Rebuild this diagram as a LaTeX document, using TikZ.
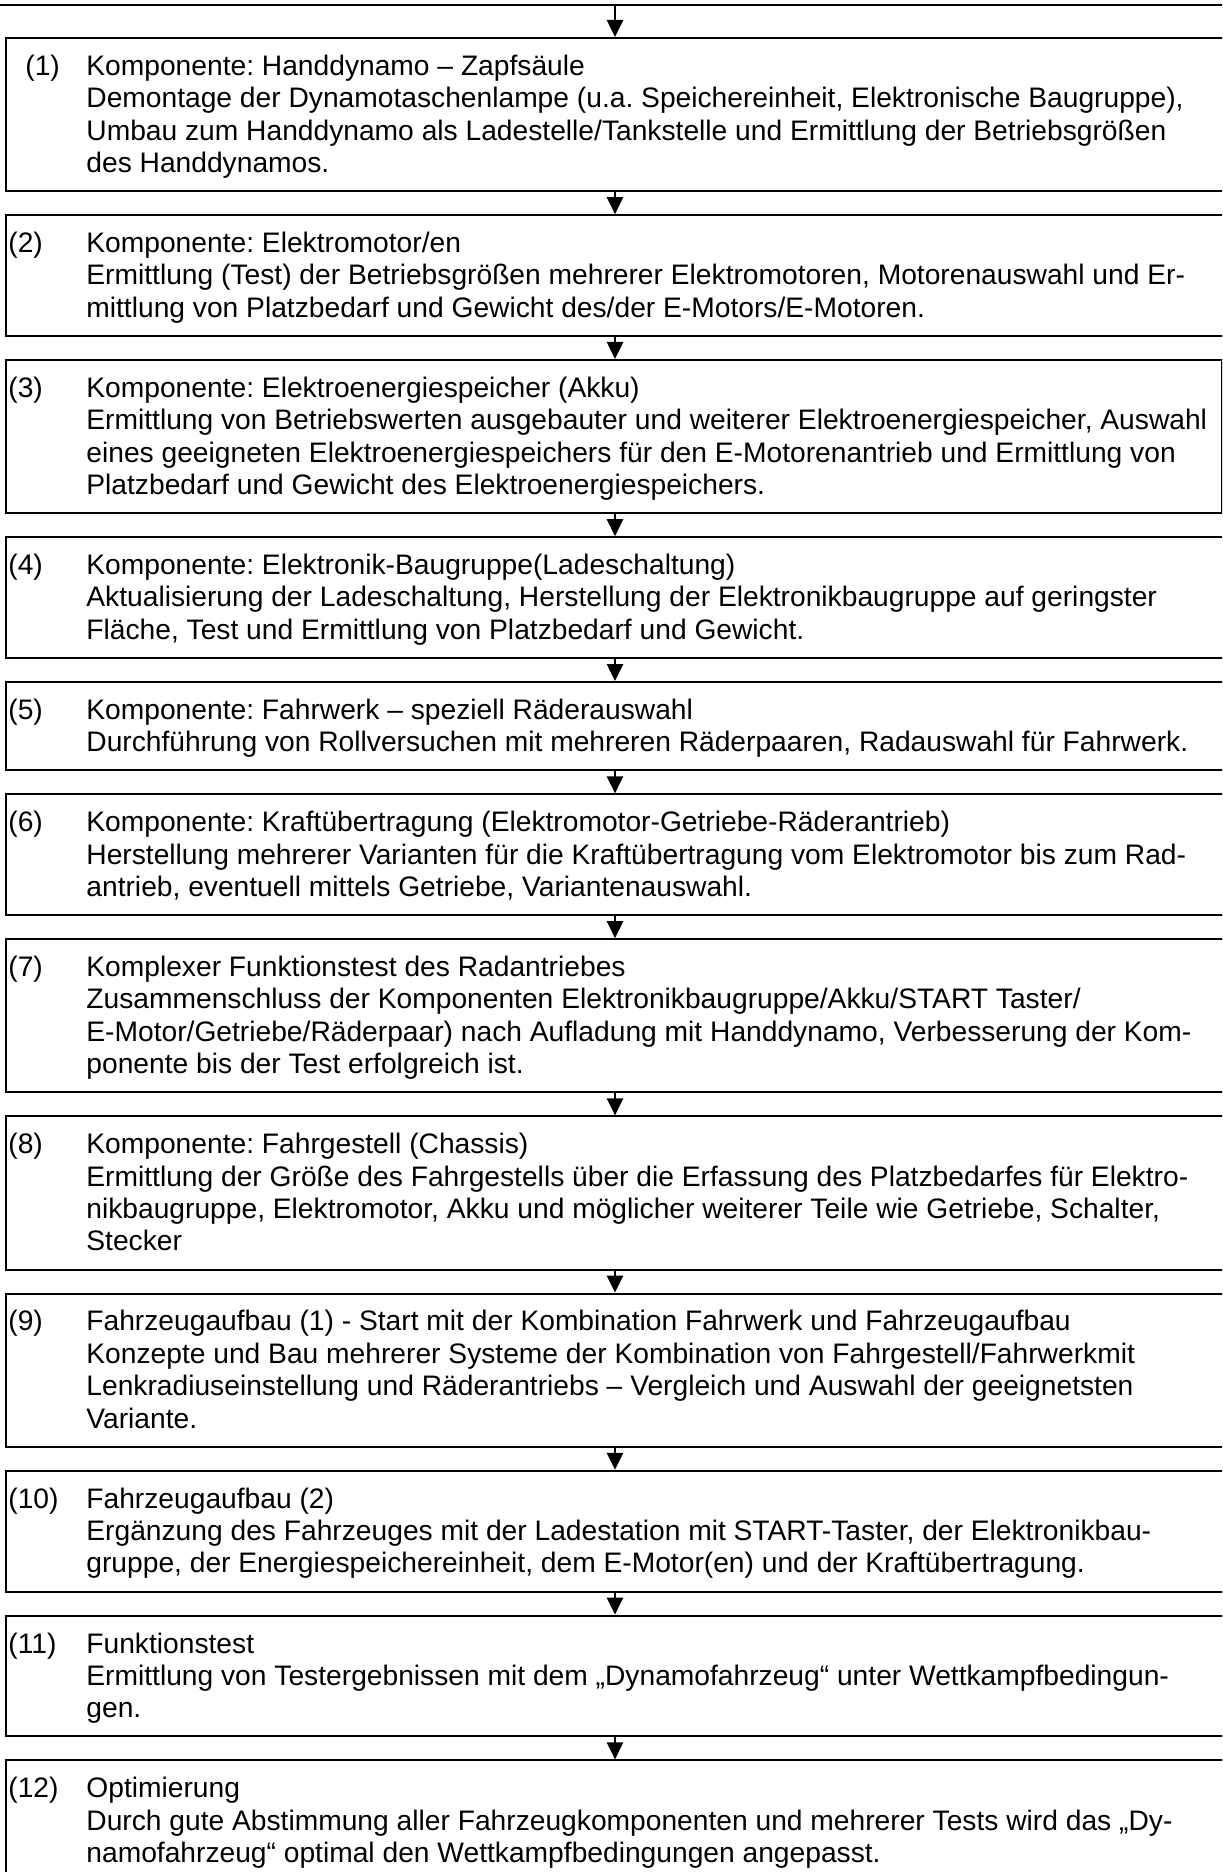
\documentclass[tikz,border=0pt]{standalone}
\usepackage{fontspec}
\setmainfont{Liberation Sans}
\usetikzlibrary{arrows.meta}
\frenchspacing
\newcommand\bodyfont{\fontsize{14.1pt}{16.2pt}\selectfont\frenchspacing}
\tikzset{
  x=0.5pt, y=-0.5pt,
  boxframe/.style={draw=black, line width=1pt, rectangle, inner sep=0pt, anchor=north west},
  numtext/.style={anchor=north west, inner sep=0pt, font=\bodyfont},
  bodytext/.style={anchor=north west, inner sep=0pt, align=left, font=\bodyfont},
  flowarrow/.style={line width=1.3pt, -{Triangle[length=8.5pt,width=8pt]}},
}
% name, top, height, box width (pt), label x, label, text
\newcommand\flowbox[7]{%
  \node[boxframe, minimum width=#4, minimum height=#3*0.5pt] (#1) at (5,#2) {};
  \node[numtext] (#1n) at (#5,#2+15.3) {\strut#6};
  \node[bodytext] (#1t) at (86,#2+15.3) {\strut#7};
}
\begin{document}
\begin{tikzpicture}
\useasboundingbox (0,0) rectangle (1222,1872);
\clip (0,0) rectangle (1222,1872);
\coordinate (ax) at (615,0);
\coordinate (topL) at (0,5);
\coordinate (topR) at (1222,5);
\draw[line width=1pt] (topL) -- (topR);

\flowbox{b1}{37}{153.2}{620pt}{25}{(1)}{Komponente: Handdynamo – Zapfsäule\\
Demontage der Dynamotaschenlampe (u.a. Speichereinheit, Elektronische Baugruppe),\\
Umbau zum Handdynamo als Ladestelle/Tankstelle und Ermittlung der Betriebsgrößen\\
des Handdynamos.}

\flowbox{b2}{214.2}{120.8}{620pt}{8}{(2)}{Komponente: Elektromotor/en\\
Ermittlung (Test) der Betriebsgrößen mehrerer Elektromotoren, Motorenauswahl und Er-\\
mittlung von Platzbedarf und Gewicht des/der E-Motors/E-Motoren.}

\flowbox{b3}{359}{153.2}{608pt}{8}{(3)}{Komponente: Elektroenergiespeicher (Akku)\\
Ermittlung von Betriebswerten ausgebauter und weiterer Elektroenergiespeicher, Auswahl\\
eines geeigneten Elektroenergiespeichers für den E-Motorenantrieb und Ermittlung von\\
Platzbedarf und Gewicht des Elektroenergiespeichers.}

\flowbox{b4}{536.2}{120.8}{620pt}{8}{(4)}{Komponente: Elektronik-Baugruppe(Ladeschaltung)\\
Aktualisierung der Ladeschaltung, Herstellung der Elektronikbaugruppe auf geringster\\
Fläche, Test und Ermittlung von Platzbedarf und Gewicht.}

\flowbox{b5}{681}{88.4}{620pt}{8}{(5)}{Komponente: Fahrwerk – speziell Räderauswahl\\
Durchführung von Rollversuchen mit mehreren Räderpaaren, Radauswahl für Fahrwerk.}

\flowbox{b6}{793.4}{120.8}{620pt}{8}{(6)}{Komponente: Kraftübertragung (Elektromotor-Getriebe-Räderantrieb)\\
Herstellung mehrerer Varianten für die Kraftübertragung vom Elektromotor bis zum Rad-\\
antrieb, eventuell mittels Getriebe, Variantenauswahl.}

\flowbox{b7}{938.2}{153.2}{620pt}{8}{(7)}{Komplexer Funktionstest des Radantriebes\\
Zusammenschluss der Komponenten Elektronikbaugruppe/Akku/START Taster/\\
E-Motor/Getriebe/Räderpaar) nach Aufladung mit Handdynamo, Verbesserung der Kom-\\
ponente bis der Test erfolgreich ist.}

\flowbox{b8}{1115.4}{153.2}{620pt}{8}{(8)}{Komponente: Fahrgestell (Chassis)\\
Ermittlung der Größe des Fahrgestells über die Erfassung des Platzbedarfes für Elektro-\\
nikbaugruppe, Elektromotor, Akku und möglicher weiterer Teile wie Getriebe, Schalter,\\
Stecker}

\flowbox{b9}{1292.6}{153.2}{620pt}{8}{(9)}{Fahrzeugaufbau (1) - Start mit der Kombination Fahrwerk und Fahrzeugaufbau\\
Konzepte und Bau mehrerer Systeme der Kombination von Fahrgestell/Fahrwerkmit\\
Lenkradiuseinstellung und Räderantriebs – Vergleich und Auswahl der geeignetsten\\
Variante.}

\flowbox{b10}{1469.8}{120.8}{620pt}{8}{(10)}{Fahrzeugaufbau (2)\\
Ergänzung des Fahrzeuges mit der Ladestation mit START-Taster, der Elektronikbau-\\
gruppe, der Energiespeichereinheit, dem E-Motor(en) und der Kraftübertragung.}

\flowbox{b11}{1614.6}{120.8}{620pt}{8}{(11)}{Funktionstest\\
Ermittlung von Testergebnissen mit dem „Dynamofahrzeug“ unter Wettkampfbedingun-\\
gen.}

\flowbox{b12}{1759.4}{200}{620pt}{8}{(12)}{Optimierung\\
Durch gute Abstimmung aller Fahrzeugkomponenten und mehrerer Tests wird das „Dy-\\
namofahrzeug“ optimal den Wettkampfbedingungen angepasst.}

\draw[flowarrow] (topL -| ax) -- (b1.north -| ax);
\draw[flowarrow] (b1.south -| ax) -- (b2.north -| ax);
\draw[flowarrow] (b2.south -| ax) -- (b3.north -| ax);
\draw[flowarrow] (b3.south -| ax) -- (b4.north -| ax);
\draw[flowarrow] (b4.south -| ax) -- (b5.north -| ax);
\draw[flowarrow] (b5.south -| ax) -- (b6.north -| ax);
\draw[flowarrow] (b6.south -| ax) -- (b7.north -| ax);
\draw[flowarrow] (b7.south -| ax) -- (b8.north -| ax);
\draw[flowarrow] (b8.south -| ax) -- (b9.north -| ax);
\draw[flowarrow] (b9.south -| ax) -- (b10.north -| ax);
\draw[flowarrow] (b10.south -| ax) -- (b11.north -| ax);
\draw[flowarrow] (b11.south -| ax) -- (b12.north -| ax);
\end{tikzpicture}
\end{document}
